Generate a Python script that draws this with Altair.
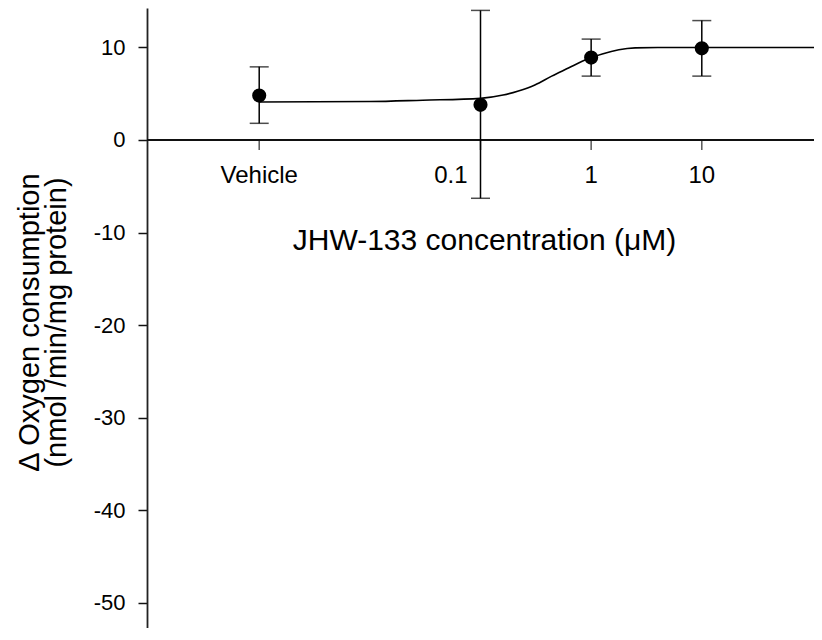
import altair as alt
import pandas as pd

# measured data (concentration in µM; vehicle plotted at 0.001)
conc = [0.001, 0.1, 1, 10]
mean = [4.8, 3.8, 8.9, 9.9]
err_lo = [1.8, -6.3, 6.9, 6.9]
err_hi = [7.9, 14.0, 10.9, 12.9]
tick_labels = ["Vehicle", "0.1", "1", "10"]

# fitted curve
curve_x = [0.001, 0.01, 0.03, 0.1, 0.16, 0.22, 0.31, 0.44, 0.63, 0.83, 1.0, 1.26, 1.78, 2.5, 4, 10, 103.3]
curve_y = [4.1, 4.15, 4.3, 4.5, 4.85, 5.3, 5.95, 6.9, 7.8, 8.5, 8.9, 9.3, 9.75, 9.95, 10.0, 10.0, 10.0]

y_ticks = [-50, -40, -30, -20, -10, 0, 10]
x_title = "JHW-133 concentration (μM)"
y_title = ["Δ Oxygen consumption", "(nmol /min/mg protein)"]

FONT = "Liberation Sans"

pts = pd.DataFrame({"x": conc, "y": mean, "lo": err_lo, "hi": err_hi, "label": tick_labels})
curve = pd.DataFrame({"x": curve_x, "y": curve_y})
zero = pd.DataFrame({"y": [0]})
title_df = pd.DataFrame({"x": [0.1], "y": [0], "t": [x_title]})

xscale = alt.Scale(type="log", domain=[9.68e-5, 103.3], nice=False)
yscale = alt.Scale(domain=[-52.73, 14.26], nice=False, zero=False)

yaxis = alt.Axis(
    values=y_ticks, grid=False, tickSize=9, tickWidth=1.5, tickColor="#111",
    domainColor="#222", domainWidth=1.8,
    labelFont=FONT, labelFontSize=22, labelColor="black", labelPadding=13,
    labelExpr="toString(datum.value)",
    title=y_title, titleFont=FONT, titleFontSize=29, titleFontWeight="normal",
    titleColor="black", titleLineHeight=27, titleAngle=-90,
    titleBaseline="middle", titleAlign="center", titleX=-118, titleY=314,
)


def X(field="x"):
    return alt.X(f"{field}:Q", scale=xscale, axis=None)


def Y(field="y"):
    return alt.Y(f"{field}:Q", scale=yscale, axis=yaxis)


axis_line = alt.Chart(zero).mark_rule(color="#111", strokeWidth=1.8).encode(y=Y("y"))

xticks = alt.Chart(pts).mark_tick(
    orient="vertical", size=10, thickness=1.5, color="#111", yOffset=5
).encode(x=X(), y=alt.Y("zero:Q", scale=yscale, axis=yaxis)).transform_calculate(zero="0")

line = alt.Chart(curve).mark_line(
    interpolate="monotone", color="black", strokeWidth=1.6
).encode(x=X(), y=Y())

bars = alt.Chart(pts).mark_rule(color="black", strokeWidth=1.5).encode(
    x=X(), y=Y("lo"), y2="hi:Q"
)

caps = alt.Chart(pts).transform_fold(["lo", "hi"], as_=["k", "v"]).mark_tick(
    orient="horizontal", size=19, thickness=1.5, color="black"
).encode(x=X(), y=Y("v"))

dots = alt.Chart(pts).mark_circle(size=200, opacity=1, color="black").encode(x=X(), y=Y())

lab_center = alt.Chart(pts).transform_filter("datum.label != '0.1'").mark_text(
    font=FONT, fontSize=24, color="black", align="center", baseline="alphabetic", dy=43
).encode(x=X(), y=alt.Y("zero:Q", scale=yscale, axis=yaxis), text="label:N").transform_calculate(zero="0")

lab_right = alt.Chart(pts).transform_filter("datum.label == '0.1'").mark_text(
    font=FONT, fontSize=24, color="black", align="right", baseline="alphabetic", dy=43, dx=-13
).encode(x=X(), y=alt.Y("zero:Q", scale=yscale, axis=yaxis), text="label:N").transform_calculate(zero="0")

xt = alt.Chart(title_df).mark_text(
    font=FONT, fontSize=30, color="black", align="center", baseline="alphabetic", dy=110, dx=4
).encode(x=X(), y=Y(), text="t:N")

chart = alt.layer(
    axis_line, xticks, line, bars, caps, dots, lab_center, lab_right, xt
).properties(
    width=667, height=620,
    autosize=alt.AutoSizeParams(type="none"),
    padding={"left": 139, "top": 0, "right": 0, "bottom": 0},
    background="white",
).configure_view(stroke=None)

chart.save("out.html", embed_options={"renderer": "svg", "actions": False})
